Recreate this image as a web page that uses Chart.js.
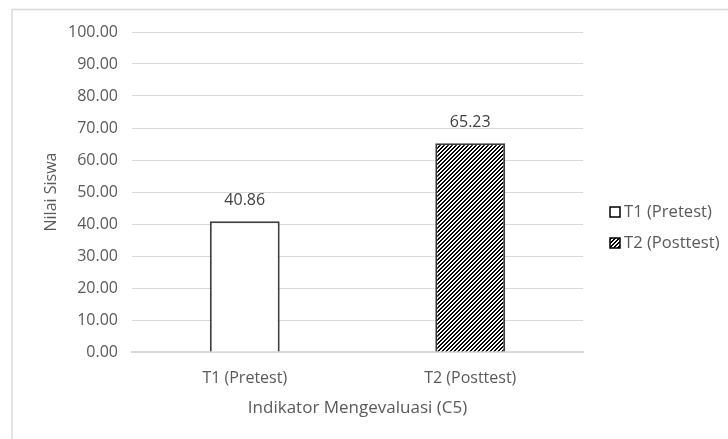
<!DOCTYPE html>
<html>
<head>
<meta charset="utf-8">
<script src="https://cdn.jsdelivr.net/npm/chart.js"></script>
<style>
  html, body { margin: 0; padding: 0; background: #fff; }
  #wrap { width: 728px; height: 439px; position: relative; }
</style>
</head>
<body>
<div id="wrap"><canvas id="nilaiChart"></canvas></div>
<script>
// Nilai siswa per tes - indikator C5
const categories = ['T1 (Pretest)', 'T2 (Posttest)'];
const nilai = [40.86, 65.23];
const yTicks = [0, 10, 20, 30, 40, 50, 60, 70, 80, 90, 100];

const textColor = '#595959';
const gridColor = '#d9d9d9';
const fontFamily = '"Open Sans", "Liberation Sans", sans-serif';

// wide upward diagonal hatch, like the Excel pattern fill
function makeHatch() {
  const c = document.createElement('canvas');
  c.width = 8; c.height = 8;
  const g = c.getContext('2d');
  g.fillStyle = '#fff';
  g.fillRect(0, 0, 8, 8);
  g.fillStyle = '#000';
  for (let y = 0; y < 8; y++) {
    for (let x = 0; x < 8; x++) {
      if ((x + y) % 4 < 2) g.fillRect(x, y, 1, 1);
    }
  }
  return g.createPattern(c, 'repeat');
}
const hatch = makeHatch();
const barFills = ['#ffffff', hatch];

// outer frame of the chart object
const framePlugin = {
  id: 'frame',
  beforeDraw(chart) {
    const ctx = chart.ctx;
    ctx.save();
    ctx.fillStyle = '#fff';
    ctx.fillRect(0, 0, chart.width, chart.height);
    ctx.strokeStyle = gridColor;
    ctx.lineWidth = 1.5;
    ctx.strokeRect(12, 9.5, 900, 600);
    ctx.restore();
  }
};

// value labels above the bars
const valueLabels = {
  id: 'valueLabels',
  afterDatasetsDraw(chart) {
    const ctx = chart.ctx;
    const meta = chart.getDatasetMeta(0);
    ctx.save();
    ctx.font = '16px ' + fontFamily;
    ctx.fillStyle = '#404040';
    ctx.textAlign = 'center';
    ctx.textBaseline = 'middle';
    meta.data.forEach((bar, i) => {
      ctx.fillText(nilai[i].toFixed(2), bar.x, bar.y - 21);
    });
    ctx.restore();
  }
};

// legend on the right, one entry per category
const sideLegend = {
  id: 'sideLegend',
  afterDraw(chart) {
    const ctx = chart.ctx;
    ctx.save();
    ctx.font = '16.6px ' + fontFamily;
    ctx.textBaseline = 'middle';
    categories.forEach((name, i) => {
      const cy = 212 + i * 31;
      ctx.fillStyle = barFills[i];
      ctx.fillRect(610, cy - 5, 10, 10);
      ctx.strokeStyle = '#000';
      ctx.lineWidth = 1.5;
      ctx.strokeRect(610, cy - 5, 10, 10);
      ctx.fillStyle = textColor;
      ctx.fillText(name, 624, cy);
    });
    ctx.restore();
  }
};

new Chart(document.getElementById('nilaiChart'), {
  type: 'bar',
  data: {
    labels: categories,
    datasets: [{
      label: 'Nilai Siswa',
      data: nilai,
      backgroundColor: barFills,
      borderColor: '#404040',
      borderWidth: 2,
      barPercentage: 0.31,
      categoryPercentage: 1
    }]
  },
  options: {
    responsive: true,
    maintainAspectRatio: false,
    animation: false,
    layout: { padding: { left: 0, top: 32, right: 145, bottom: 0 } },
    plugins: {
      legend: { display: false },
      tooltip: { enabled: false }
    },
    scales: {
      x: {
        grid: { display: false, drawTicks: false },
        border: { display: true, color: gridColor, width: 2 },
        ticks: { color: textColor, font: { family: fontFamily, size: 16 }, padding: 17 },
        title: {
          display: true,
          text: 'Indikator Mengevaluasi (C5)',
          color: textColor,
          font: { family: fontFamily, size: 17 },
          padding: { top: 0, bottom: 21 }
        },
        afterFit(s) { s.height = 87; }
      },
      y: {
        min: 0,
        max: 100,
        afterBuildTicks(s) { s.ticks = yTicks.map(v => ({ value: v })); },
        grid: { color: gridColor, drawTicks: false },
        border: { display: false },
        ticks: {
          color: textColor,
          font: { family: fontFamily, size: 16 },
          padding: 14,
          callback: v => v.toFixed(2)
        },
        title: {
          display: true,
          text: 'Nilai Siswa',
          color: textColor,
          font: { family: fontFamily, size: 16 },
          padding: { top: 42, bottom: 0 }
        },
        afterFit(s) { s.width = 132; }
      }
    }
  },
  plugins: [framePlugin, valueLabels, sideLegend]
});
</script>
</body>
</html>
